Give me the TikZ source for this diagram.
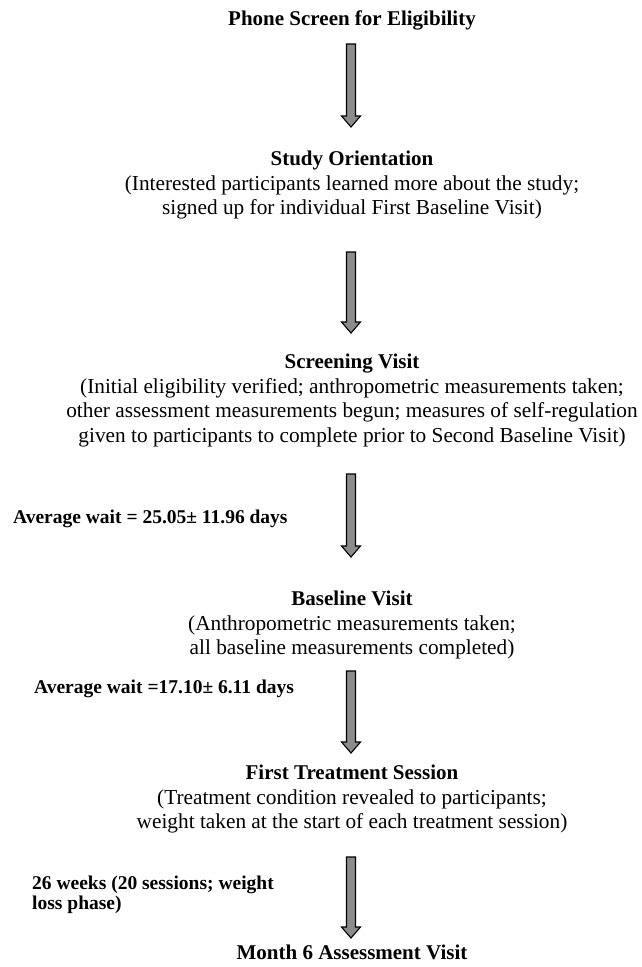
\documentclass[tikz,border=0pt]{standalone}
\usepackage{fontspec}
\setmainfont{Liberation Serif}
\usetikzlibrary{calc}
\begin{document}
\begin{tikzpicture}[x=1pt,y=-1pt,
  ttl/.style={anchor=base,inner sep=0pt,font=\fontsize{21}{24}\selectfont\bfseries},
  dsc/.style={anchor=base,inner sep=0pt,font=\fontsize{21.3}{24}\selectfont},
  wt/.style={anchor=base west,inner sep=0pt,font=\fontsize{19.5}{20}\selectfont\bfseries},
  blockarrow/.style={draw=black,fill=black!45,line width=1.1pt,line join=miter}]
\useasboundingbox (0,0) rectangle (642,967);
\newcommand\barrow[2]{%
  \path[blockarrow] ($(#1)+(-4.5,0)$) -- ($(#1)+(4.5,0)$) -- ($(#2)+(4.5,-11)$)
   -- ($(#2)+(9.5,-11)$) -- (#2) -- ($(#2)+(-9.5,-11)$) -- ($(#2)+(-4.5,-11)$) -- cycle;}
% texts
\node[ttl] (t1) at (352,25) {Phone Screen for Eligibility};
\node[ttl] (t2) at (352,165) {Study Orientation};
\node[dsc] (d21) at (352,190) {(Interested participants learned more about the study;};
\node[dsc] (d22) at (352,214) {signed up for individual First Baseline Visit)};
\node[ttl] (t3) at (352,368) {Screening Visit};
\node[dsc] (d31) at (352,393) {(Initial eligibility verified; anthropometric measurements taken;};
\node[dsc] (d32) at (352,417) {other assessment measurements begun; measures of self-regulation};
\node[dsc] (d33) at (352,442) {given to participants to complete prior to Second Baseline Visit)};
\node[ttl] (t4) at (352,605) {Baseline Visit};
\node[dsc] (d41) at (352,630) {(Anthropometric measurements taken;};
\node[dsc] (d42) at (352,654) {all baseline measurements completed)};
\node[ttl] (t5) at (352,779) {First Treatment Session};
\node[dsc] (d51) at (352,804) {(Treatment condition revealed to participants;};
\node[dsc] (d52) at (352,828) {weight taken at the start of each treatment session)};
\node[ttl] (t6) at (352,959) {Month 6 Assessment Visit};
\node[wt] (w1) at (13,523) {Average wait = 25.05± 11.96 days};
\node[wt] (w2) at (34,693) {Average wait =17.10± 6.11 days};
\node[wt] (w3) at (32,889) {26 weeks (20 sessions; weight};
\node[wt] (w4) at (32,909) {loss phase)};
% arrows
\coordinate (a1s) at (351,44);  \coordinate (a1e) at (351,127);
\coordinate (a2s) at (351,252); \coordinate (a2e) at (351,333);
\coordinate (a3s) at (351,474); \coordinate (a3e) at (351,557);
\coordinate (a4s) at (351,671); \coordinate (a4e) at (351,753);
\coordinate (a5s) at (351,857); \coordinate (a5e) at (351,938);
\barrow{a1s}{a1e}
\barrow{a2s}{a2e}
\barrow{a3s}{a3e}
\barrow{a4s}{a4e}
\barrow{a5s}{a5e}
\end{tikzpicture}
\end{document}
